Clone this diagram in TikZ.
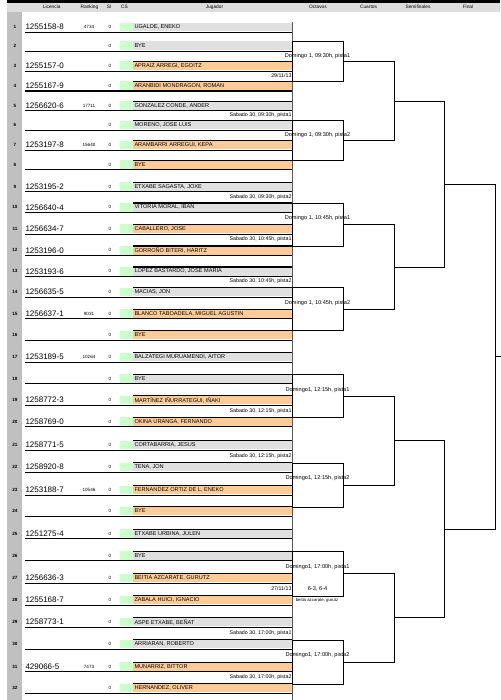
\documentclass[tikz,border=0pt]{standalone}
\usepackage{fontspec}
\setmainfont{Liberation Sans}
\usetikzlibrary{calc}
\definecolor{bargray}{HTML}{E0E0E0}
\definecolor{barorange}{HTML}{FFCC99}
\definecolor{csgreen}{HTML}{CCFFCC}
\definecolor{colgray}{HTML}{C0C0C0}
\definecolor{headgray}{HTML}{DDDDDD}
\newcommand\myfs[1]{\fontsize{#1}{#1}\selectfont}
\begin{document}
\begin{tikzpicture}[x=1pt,y=-1pt,
  every node/.style={inner sep=0pt, outer sep=0pt},
  numtxt/.style={font=\bfseries\myfs{4.6}},
  lictxt/.style={font=\myfs{8}, anchor=west},
  rktxt/.style={font=\myfs{4.6}},
  hdrtxt/.style={font=\myfs{4.8}},
  csbox/.style={fill=csgreen, minimum width=13pt, minimum height=8.6pt},
  namebar/.style={minimum width=159.7pt, minimum height=8.6pt},
  nametxt/.style={font=\myfs{5.6}, anchor=west},
  schedtxt/.style={font=\myfs{5.3}, anchor=east},
  boxtxt/.style={font=\myfs{5.6}},
  smalltxt/.style={font=\myfs{4.3}},
  rowline/.style={line width=1.1pt},
  matchbox/.style={draw, line width=1pt, minimum width=50.6pt},
  bracket/.style={line width=0.9pt}]
\useasboundingbox (0,0) rectangle (500,700);
% backgrounds
\fill[headgray] (6.7,2.6) rectangle (500,11.7);
\fill[black] (6.7,0) rectangle (500,2.6);
\fill[colgray] (6.7,11.7) rectangle (21.7,700);
% header
\node[hdrtxt] (hLic) at (51.7,7.2) {Licencia};
\node[hdrtxt] (hRk) at (89.5,7.2) {Ranking};
\node[hdrtxt] (hSi) at (109,7.2) {Sl};
\node[hdrtxt] (hCs) at (124.5,7.2) {CS};
\node[hdrtxt] (hJug) at (214.5,7.2) {Jugador};
\node[hdrtxt] (hOct) at (318,7.2) {Octavos};
\node[hdrtxt] (hCua) at (368.5,7.2) {Cuartos};
\node[hdrtxt] (hSem) at (418,7.2) {Semifinales};
\node[hdrtxt] (hFin) at (468,7.2) {Final};
% rows
\foreach \r/\y/\lic/\rk/\nm/\c/\tp in {
1/27/1255158-8/4734/{UGALDE, ENEKO}/bargray/0,
2/45.8/{}/{}/BYE/bargray/0,
3/65.8/1255157-0/{}/{APRAIZ  ARREGI, EGOITZ}/barorange/1,
4/85.7/1255167-9/{}/{ARANBIDI MONDRAGON, ROMAN}/barorange/1,
5/105.5/1256620-6/17711/{GONZALEZ CONDE, ANDER}/bargray/1,
6/125/{}/{}/{MORENO, JOSE LUIS}/bargray/1,
7/145/1253197-8/15640/{ARAMBARRI ARREGUI, KEPA}/barorange/1,
8/164.5/{}/{}/BYE/barorange/1,
9/186.5/1253195-2/{}/{ETXABE SAGASTA, JOXE}/bargray/1,
10/207.3/1256640-4/{}/{VITORIA MORAL, IBAN}/bargray/1,
11/228.8/1256634-7/{}/{CABALLERO, JOSE}/barorange/1,
12/250.3/1253196-0/{}/{GORROÑO BITERI, HARITZ}/barorange/1,
13/271.3/1253193-6/{}/{LOPEZ BASTARDO, JOSE MARIA}/bargray/1,
14/291.8/1256635-5/{}/{MACIAS, JON}/bargray/1,
15/313.5/1256637-1/9031/{BLANCO TABOADELA, MIGUEL AGUSTIN}/barorange/1,
16/334.8/{}/{}/BYE/barorange/1,
17/357/1253189-5/10264/{BALZATEGI MURUAMENDI, AITOR}/bargray/1,
18/378.5/{}/{}/BYE/bargray/1,
19/400/1258772-3/{}/{MARTÍNEZ IÑURRATEGUI, IÑAKI}/barorange/1,
20/421.5/1258769-0/{}/{OKINA URANGA, FERNANDO}/barorange/1,
21/445/1258771-5/{}/{CORTABARRIA, JESUS}/bargray/1,
22/467/1258920-8/{}/{TENA, JON}/bargray/1,
23/490/1253188-7/10546/{FERNANDEZ ORTIZ DE L, ENEKO}/barorange/1,
24/511/{}/{}/BYE/barorange/1,
25/533.5/1251275-4/{}/{ETXABE URBINA, JULEN}/bargray/1,
26/555.5/{}/{}/BYE/bargray/1,
27/578/1256636-3/{}/{BEITIA AZCARATE, GURUTZ}/barorange/1,
28/600/1255168-7/{}/{ZABALA HUICI, IGNACIO}/barorange/1,
29/622/1258773-1/{}/{ASPE ETXABE, BEÑAT}/bargray/1,
30/644/{}/{}/{ARRIARAN, ROBERTO}/bargray/1,
31/666.5/429066-5/7473/{MUNARRIZ, BITTOR}/barorange/1,
32/688/{}/{}/{HERNANDEZ, OLIVER}/barorange/1}{
  \node[namebar, fill=\c] (p\r) at (212.85,\y) {};
  \node[csbox] (cs\r) at (126.5,\y) {};
  \node[numtxt] (n\r) at (15,\y) {\r};
  \node[lictxt] (l\r) at (25.5,\y) {\lic};
  \node[rktxt] (k\r) at (89,\y) {\rk};
  \node[rktxt] (si\r) at (110,\y) {0};
  \node[nametxt] (t\r) at (134.5,\y) {\nm};
  \draw[rowline] (25,{\y+5.3}) -- (292.7,{\y+5.3});
  \ifnum\tp=1 \draw[rowline] (133,{\y-4.3}) -- (292.7,{\y-4.3}); \fi
}
% right edge of player table
\draw[gray!70!black, line width=0.6pt] (292.7,22) -- (292.7,700);
% schedule texts
\foreach \i/\y/\t in {
1/75.75/{29/11/13},
2/115.25/{Sabado 30, 09:30h, pista1},
3/196.9/{Sabado 30, 09:30h, pista2},
4/239.55/{Sabado 30, 10:45h, pista1},
5/281.55/{Sabado 30, 10:45h, pista2},
6/410.75/{Sabado 30, 12:15h, pista1},
7/456/{Sabado 30, 12:15h, pista2},
8/589/{27/11/13},
9/633/{Sabado 30, 17:00h, pista1},
10/677.25/{Sabado 30, 17:00h, pista2}}{
  \node[schedtxt] (sc\i) at (291.5,\y) {\t};
}
% octavos boxes
\node[matchbox, minimum height=39.9pt] (b1) at (318,61.75) {};
\node[matchbox, minimum height=39.5pt] (b2) at (318,140.75) {};
\node[matchbox, minimum height=43pt] (b3) at (318,224.8) {};
\node[matchbox, minimum height=43pt] (b4) at (318,309.3) {};
\node[matchbox, minimum height=43pt] (b5) at (318,396) {};
\node[matchbox, minimum height=44pt] (b6) at (318,485) {};
\node[matchbox, minimum height=44.5pt] (b7) at (318,573.75) {};
\node[matchbox, minimum height=44pt] (b8) at (318,662) {};
\node[boxtxt] (d1) at (317.5,55.8) {Domingo 1, 09:30h, pista1};
\node[boxtxt] (d2) at (317.5,135) {Domingo 1, 09:30h, pista2};
\node[boxtxt] (d3) at (317.5,218) {Domingo 1, 10:45h, pista1};
\node[boxtxt] (d4) at (317.5,302.6) {Domingo 1, 10:45h, pista2};
\node[boxtxt] (d5) at (317.5,390) {Domingo1, 12:15h, pista1};
\node[boxtxt] (d6) at (317.5,478.5) {Domingo1, 12:15h, pista2};
\node[boxtxt] (d7) at (317.5,566.75) {Domingo1, 17:00h, pista1};
\node[boxtxt] (d8) at (317.5,655.25) {Domingo1, 17:00h, pista2};
\node[boxtxt] (res) at (317.5,589) {6-3, 6-4};
\node[smalltxt] (win) at (317,600.5) {beitia azcarate, gurutz};
% brackets
\coordinate (q1) at ($(b1.east)!.5!(b2.east)+(51,0)$);
\coordinate (q2) at ($(b3.east)!.5!(b4.east)+(51,0)$);
\coordinate (q3) at ($(b5.east)!.5!(b6.east)+(51,0)$);
\coordinate (q4) at ($(b7.east)!.5!(b8.east)+(51,0)$);
\draw[bracket] (b1.east) -| (q1) |- (b2.east);
\draw[bracket] (b3.east) -| (q2) |- (b4.east);
\draw[bracket] (b5.east) -| (q3) |- (b6.east);
\draw[bracket] (b7.east) -| (q4) |- (b8.east);
\coordinate (s1) at ($(q1)!.5!(q2)+(50.5,0)$);
\coordinate (s2) at ($(q3)!.5!(q4)+(50.5,0)$);
\draw[bracket] (q1) -| (s1) |- (q2);
\draw[bracket] (q3) -| (s2) |- (q4);
\coordinate (f) at ($(s1)!.5!(s2)+(51,0)$);
\draw[bracket] (s1) -| (f) |- (s2);
\coordinate (fe) at ($(f)+(6,0)$);
\draw[bracket] (f) -- (fe);
\end{tikzpicture}
\end{document}
